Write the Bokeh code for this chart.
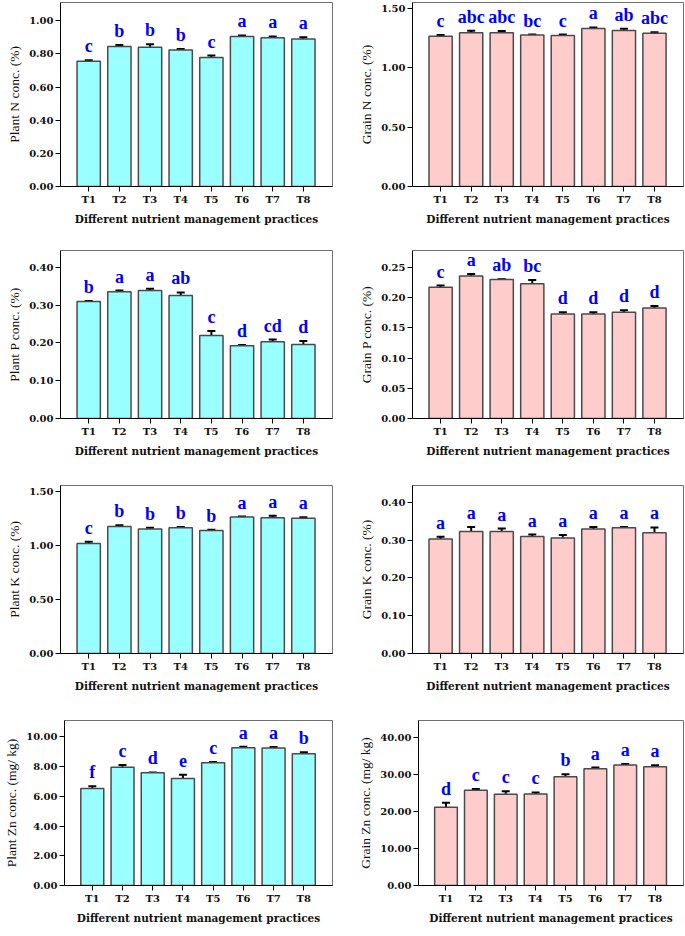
from bokeh.plotting import figure
from bokeh.models import (Range1d, FixedTicker, NumeralTickFormatter, ColumnDataSource,
                          Whisker, TeeHead)
from bokeh.layouts import column, row
from bokeh.embed import file_html
from bokeh.resources import INLINE
from bokeh.core.properties import value

treatments = ["T1", "T2", "T3", "T4", "T5", "T6", "T7", "T8"]
xlabel = "Different nutrient management practices"

plant_n = [0.756, 0.844, 0.840, 0.823, 0.778, 0.905, 0.897, 0.890]
plant_n_se = [0.005, 0.010, 0.018, 0.007, 0.012, 0.006, 0.008, 0.010]
plant_n_letters = ["c", "b", "b", "b", "c", "a", "a", "a"]

grain_n = [1.265, 1.295, 1.295, 1.276, 1.272, 1.330, 1.315, 1.290]
grain_n_se = [0.012, 0.018, 0.014, 0.004, 0.008, 0.010, 0.013, 0.010]
grain_n_letters = ["c", "abc", "abc", "bc", "c", "a", "ab", "abc"]

plant_p = [0.310, 0.336, 0.339, 0.326, 0.220, 0.193, 0.203, 0.196]
plant_p_se = [0.001, 0.003, 0.005, 0.008, 0.012, 0.002, 0.006, 0.009]
plant_p_letters = ["b", "a", "a", "ab", "c", "d", "cd", "d"]

grain_p = [0.217, 0.236, 0.230, 0.223, 0.173, 0.173, 0.176, 0.183]
grain_p_se = [0.003, 0.003, 0.0005, 0.006, 0.003, 0.003, 0.003, 0.003]
grain_p_letters = ["c", "a", "ab", "bc", "d", "d", "d", "d"]

plant_k = [1.017, 1.176, 1.153, 1.163, 1.139, 1.263, 1.256, 1.252]
plant_k_se = [0.018, 0.010, 0.010, 0.007, 0.007, 0.005, 0.020, 0.010]
plant_k_letters = ["c", "b", "b", "b", "b", "a", "a", "a"]

grain_k = [0.303, 0.323, 0.323, 0.310, 0.306, 0.330, 0.333, 0.320]
grain_k_se = [0.006, 0.012, 0.008, 0.005, 0.008, 0.005, 0.002, 0.014]
grain_k_letters = ["a", "a", "a", "a", "a", "a", "a", "a"]

plant_zn = [6.52, 7.95, 7.58, 7.20, 8.26, 9.27, 9.25, 8.86]
plant_zn_se = [0.15, 0.15, 0.03, 0.25, 0.05, 0.07, 0.07, 0.10]
plant_zn_letters = ["f", "c", "d", "e", "c", "a", "a", "b"]

grain_zn = [21.1, 25.7, 24.6, 24.7, 29.3, 31.5, 32.5, 32.0]
grain_zn_se = [1.2, 0.3, 0.8, 0.4, 0.7, 0.3, 0.3, 0.4]
grain_zn_letters = ["d", "c", "c", "c", "b", "a", "a", "a"]

CYAN = "#99ffff"
PINK = "#ffcccc"


def panel(vals, errs, letters, ylab, ymax, yticks, color, W, H, bl, br, bt, bb):
    xs = list(range(1, len(treatments) + 1))
    src = ColumnDataSource(dict(
        x=xs, top=vals,
        upper=[v + e for v, e in zip(vals, errs)],
        lower=[v - e for v, e in zip(vals, errs)],
        letter=letters))
    p = figure(width=W, height=H, x_range=Range1d(0.08, 8.95), y_range=Range1d(0, ymax),
               output_backend="svg", toolbar_location=None,
               min_border_left=bl, min_border_right=br, min_border_top=bt, min_border_bottom=bb)
    p.vbar(x="x", top="top", width=0.76, fill_color=color, line_color="#4a4a4a",
           line_width=1.5, source=src)
    w = Whisker(base="x", upper="upper", lower="lower", source=src,
                line_color="black", line_width=2,
                upper_head=TeeHead(size=8, line_width=2, line_color="black"),
                lower_head=TeeHead(size=8, line_width=2, line_color="black"))
    p.add_layout(w)
    p.text(x="x", y="upper", text="letter", source=src,
           text_font=value("Liberation Serif"), text_font_style="bold",
           text_font_size="18px", text_color="#0000ff", text_align="center",
           text_baseline="alphabetic", y_offset=-14)

    p.xgrid.grid_line_color = None
    p.ygrid.grid_line_color = None
    p.outline_line_color = "#707070"
    p.outline_line_width = 1
    p.background_fill_color = "white"
    p.border_fill_color = "white"

    p.xaxis.ticker = FixedTicker(ticks=xs)
    p.xaxis.major_label_overrides = {i: t for i, t in zip(xs, treatments)}
    p.yaxis.ticker = FixedTicker(ticks=yticks)
    p.yaxis.formatter = NumeralTickFormatter(format="0.00")
    for ax in (p.xaxis[0], p.yaxis[0]):
        ax.axis_line_color = "black"
        ax.axis_line_width = 1
        ax.major_tick_line_color = "black"
        ax.major_tick_in = 0
        ax.major_tick_out = 5
        ax.minor_tick_line_color = None
        ax.major_label_text_font = "DejaVu Serif"
        ax.major_label_text_font_style = "bold"
        ax.major_label_text_font_size = "10px"
        ax.major_label_text_color = "#111111"
        ax.major_label_standoff = 2
    p.xaxis.axis_label = xlabel
    p.xaxis.axis_label_text_font = "DejaVu Serif"
    p.xaxis.axis_label_text_font_style = "bold"
    p.xaxis.axis_label_text_font_size = "10.5px"
    p.xaxis.axis_label_text_color = "#111111"
    p.xaxis.axis_label_standoff = 5
    p.yaxis.axis_label = ylab
    p.yaxis.axis_label_text_font = "Liberation Serif"
    p.yaxis.axis_label_text_font_style = "normal"
    p.yaxis.axis_label_text_font_size = "13.5px"
    p.yaxis.axis_label_text_color = "#111111"
    p.yaxis.axis_label_standoff = 4
    return p


W0, W1 = 340, 345
B = 51

p1 = panel(plant_n, plant_n_se, plant_n_letters, "Plant N conc. (%)", 1.11,
           [0, 0.2, 0.4, 0.6, 0.8, 1.0], CYAN, W0, 237, 60, 8, 2, B)
p2 = panel(grain_n, grain_n_se, grain_n_letters, "Grain N conc. (%)", 1.55,
           [0, 0.5, 1.0, 1.5], PINK, W1, 237, 72, 2, 2, B)
p3 = panel(plant_p, plant_p_se, plant_p_letters, "Plant P conc. (%)", 0.445,
           [0, 0.1, 0.2, 0.3, 0.4], CYAN, W0, 232, 60, 8, 13, B)
p4 = panel(grain_p, grain_p_se, grain_p_letters, "Grain P conc. (%)", 0.278,
           [0, 0.05, 0.10, 0.15, 0.20, 0.25], PINK, W1, 232, 72, 2, 13, B)
p5 = panel(plant_k, plant_k_se, plant_k_letters, "Plant K conc. (%)", 1.555,
           [0, 0.5, 1.0, 1.5], CYAN, W0, 235, 60, 8, 16, B)
p6 = panel(grain_k, grain_k_se, grain_k_letters, "Grain K conc. (%)", 0.445,
           [0, 0.1, 0.2, 0.3, 0.4], PINK, W1, 235, 72, 2, 16, B)
p7 = panel(plant_zn, plant_zn_se, plant_zn_letters, "Plant Zn conc. (mg/ kg)", 11.1,
           [0, 2, 4, 6, 8, 10], CYAN, W0, 232, 64, 8, 16, B)
p8 = panel(grain_zn, grain_zn_se, grain_zn_letters, "Grain Zn conc. (mg/ kg)", 44.5,
           [0, 10, 20, 30, 40], PINK, W1, 232, 78, 2, 16, B)

layout = column(row(p1, p2), row(p3, p4), row(p5, p6), row(p7, p8))
open("out.html", "w").write(file_html(layout, INLINE))
